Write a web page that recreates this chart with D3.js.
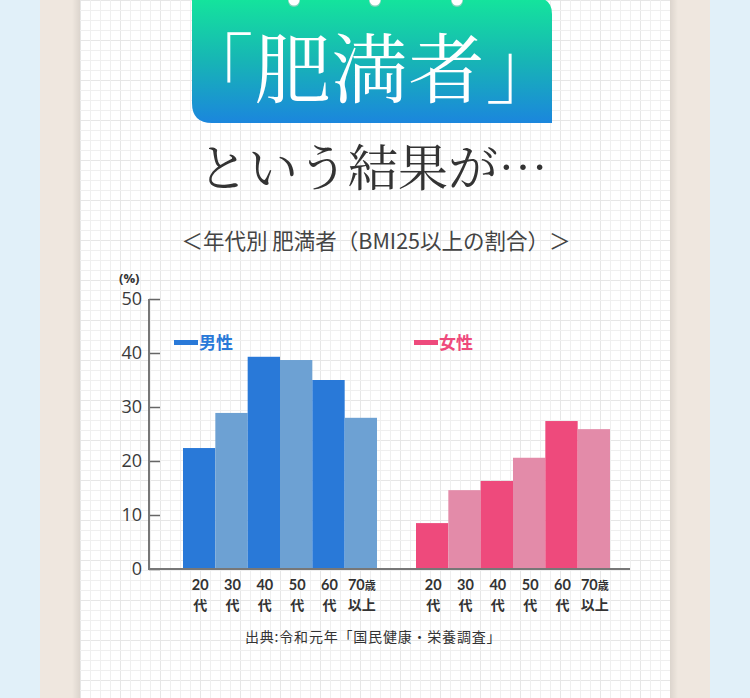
<!DOCTYPE html>
<html><head><meta charset="utf-8">
<script src="https://cdn.jsdelivr.net/npm/d3@7"></script>
<style>
html,body{margin:0;padding:0;background:#e1f0f9;}
svg{display:block;font-family:"Noto Sans CJK JP","Noto Sans",sans-serif;}
</style></head>
<body>
<svg id="chart" width="750" height="698"></svg>
<script>
const ageGroups = ["20代","30代","40代","50代","60代","70歳以上"];
const tickLine1 = ["20","30","40","50","60","70"];
const tickLine2 = ["代","代","代","代","代","以上"];
const maleValues = [22.4, 28.9, 39.3, 38.7, 35.0, 28.0];
const femaleValues = [8.5, 14.6, 16.3, 20.6, 27.4, 25.9];
const yTicks = [0, 10, 20, 30, 40, 50];
const seriesNames = ["男性", "女性"];
const titleText = "「肥満者」";
const subTitleText = "という結果が…";
const chartTitle = "＜年代別 肥満者（BMI25以上の割合）＞";
const sourceText = "出典:令和元年「国民健康・栄養調査」";

const svg = d3.select("#chart");
const defs = svg.append("defs");

// background
svg.append("rect").attr("x",0).attr("y",0).attr("width",750).attr("height",698).attr("fill","#e1f0f9");
svg.append("rect").attr("x",40).attr("y",0).attr("width",670).attr("height",698).attr("fill","#efe7df");
const shL = defs.append("linearGradient").attr("id","shL").attr("x1","0").attr("x2","1");
shL.append("stop").attr("offset","0").attr("stop-color","#000").attr("stop-opacity",0);
shL.append("stop").attr("offset","1").attr("stop-color","#000").attr("stop-opacity",0.08);
const shR = defs.append("linearGradient").attr("id","shR").attr("x1","0").attr("x2","1");
shR.append("stop").attr("offset","0").attr("stop-color","#000").attr("stop-opacity",0.08);
shR.append("stop").attr("offset","1").attr("stop-color","#000").attr("stop-opacity",0);
svg.append("rect").attr("x",72).attr("y",0).attr("width",8).attr("height",698).attr("fill","url(#shL)");
svg.append("rect").attr("x",670).attr("y",0).attr("width",8).attr("height",698).attr("fill","url(#shR)");

// grid paper
const pat = defs.append("pattern").attr("id","grid").attr("patternUnits","userSpaceOnUse")
  .attr("width",40).attr("height",40).attr("x",80).attr("y",0);
pat.append("rect").attr("width",40).attr("height",40).attr("fill","#ffffff");
for (let i=0;i<4;i++){
  pat.append("rect").attr("x",i*10).attr("y",0).attr("width",1).attr("height",40).attr("fill", i===0?"#e6e6e6":"#efefef");
  pat.append("rect").attr("x",0).attr("y",i*10).attr("width",40).attr("height",1).attr("fill", i===0?"#e6e6e6":"#efefef");
}
svg.append("rect").attr("x",80).attr("y",0).attr("width",590).attr("height",698).attr("fill","url(#grid)");

// header box
const hg = defs.append("linearGradient").attr("id","hg").attr("x1","0").attr("y1","0").attr("x2","0").attr("y2","1");
hg.append("stop").attr("offset","0").attr("stop-color","#14e59c");
hg.append("stop").attr("offset","0.5").attr("stop-color","#17b5b5");
hg.append("stop").attr("offset","1").attr("stop-color","#1b86dd");
const bx0=192,bx1=552,by0=-2,by1=123,r=16;
svg.append("path")
  .attr("d",`M${bx0},${by0} L${bx1-r},${by0} Q${bx1},${by0} ${bx1},${by0+r} L${bx1},${by1} L${bx0+r+4},${by1} Q${bx0},${by1} ${bx0},${by1-r-4} Z`)
  .attr("fill","url(#hg)");
[294,375,457].forEach(cx=>{
  svg.append("circle").attr("cx",cx).attr("cy",1).attr("r",6).attr("fill","#c8c8c8").attr("opacity",0.6);
  svg.append("circle").attr("cx",cx).attr("cy",0).attr("r",5.5).attr("fill","#ffffff");
});
svg.append("text").attr("x",370).attr("y",97).attr("text-anchor","middle")
  .attr("font-size",76).attr("font-weight",400).attr("fill","#ffffff").attr("letter-spacing",1)
  .attr("font-family","'Noto Serif CJK JP','Noto Sans CJK JP',sans-serif")
  .text(titleText);
svg.append("text").attr("x",373).attr("y",186).attr("text-anchor","middle")
  .attr("font-size",50).attr("font-weight",400).attr("fill","#333333")
  .attr("font-family","'Noto Serif CJK JP','Noto Sans CJK JP',sans-serif")
  .text(subTitleText);
svg.append("text").attr("x",376).attr("y",249).attr("text-anchor","middle")
  .attr("font-size",21.5).attr("fill","#444444").text(chartTitle);

// chart scales
const y = d3.scaleLinear().domain([0,50]).range([569,299]);
const xm = d3.scaleBand().domain(ageGroups).range([183,377]).padding(0);
const xf = d3.scaleBand().domain(ageGroups).range([416,610]).padding(0);
const maleColors = ["#2979d8","#6da1d3"];
const femaleColors = ["#ee4a7c","#e38ba9"];

svg.append("g").selectAll("rect").data(maleValues).join("rect")
  .attr("x",(d,i)=>xm(ageGroups[i])).attr("width",xm.bandwidth())
  .attr("y",d=>y(d)).attr("height",d=>y(0)-y(d))
  .attr("fill",(d,i)=>maleColors[i%2]);
svg.append("g").selectAll("rect").data(femaleValues).join("rect")
  .attr("x",(d,i)=>xf(ageGroups[i])).attr("width",xf.bandwidth())
  .attr("y",d=>y(d)).attr("height",d=>y(0)-y(d))
  .attr("fill",(d,i)=>femaleColors[i%2]);

// y axis
const yAxis = d3.axisRight(y).tickValues(yTicks).tickSize(11).tickFormat("");
const ga = svg.append("g").attr("transform","translate(149,0)").call(yAxis);
ga.select(".domain").remove();
ga.selectAll(".tick line").attr("stroke","#666").attr("stroke-width",1.5);
svg.append("line").attr("x1",149).attr("x2",149).attr("y1",y(50)).attr("y2",y(0)+1).attr("stroke","#777").attr("stroke-width",2);
svg.append("g").selectAll("text").data(yTicks).join("text")
  .attr("x",142).attr("y",d=>y(d)+6).attr("text-anchor","end")
  .attr("font-size",18).attr("fill","#3a3a3a").attr("font-family","'Open Sans','Noto Sans',sans-serif")
  .text(d=>d);
svg.append("text").attr("x",119).attr("y",283).attr("font-size",13).attr("font-weight",700).attr("fill","#333")
  .attr("font-family","'Open Sans','Noto Sans',sans-serif").text("(%)");
svg.append("line").attr("x1",148).attr("x2",630).attr("y1",y(0)).attr("y2",y(0)).attr("stroke","#777").attr("stroke-width",2);

// x tick labels
function xLabels(scale){
  const g = svg.append("g");
  ageGroups.forEach((a,i)=>{
    const cx = scale(a)+scale.bandwidth()/2;
    const t = g.append("text").attr("x",cx+1).attr("y",590).attr("text-anchor","middle")
      .attr("font-size",14.5).attr("font-weight",700).attr("fill","#333")
      .attr("font-family","Lato,'Noto Sans',sans-serif");
    t.append("tspan").text(tickLine1[i]);
    if (i===5) t.append("tspan").attr("font-size",11).attr("font-family","'Noto Sans CJK JP'").text("歳");
    g.append("text").attr("x",cx+1).attr("y",610).attr("text-anchor","middle")
      .attr("font-size",14).attr("font-weight",700).attr("fill","#333").text(tickLine2[i]);
  });
}
xLabels(xm); xLabels(xf);

// legends
[[174, maleColors[0], seriesNames[0]],[414, femaleColors[0], seriesNames[1]]].forEach(([lx,c,n])=>{
  svg.append("rect").attr("x",lx).attr("y",340).attr("width",24).attr("height",5).attr("fill",c);
  svg.append("text").attr("x",lx+25).attr("y",349).attr("font-size",17).attr("font-weight",700).attr("fill",c).text(n);
});

// source
svg.append("text").attr("x",245).attr("y",642).attr("font-size",14).attr("letter-spacing",0.8).attr("fill","#333").text(sourceText);
</script>
</body></html>
